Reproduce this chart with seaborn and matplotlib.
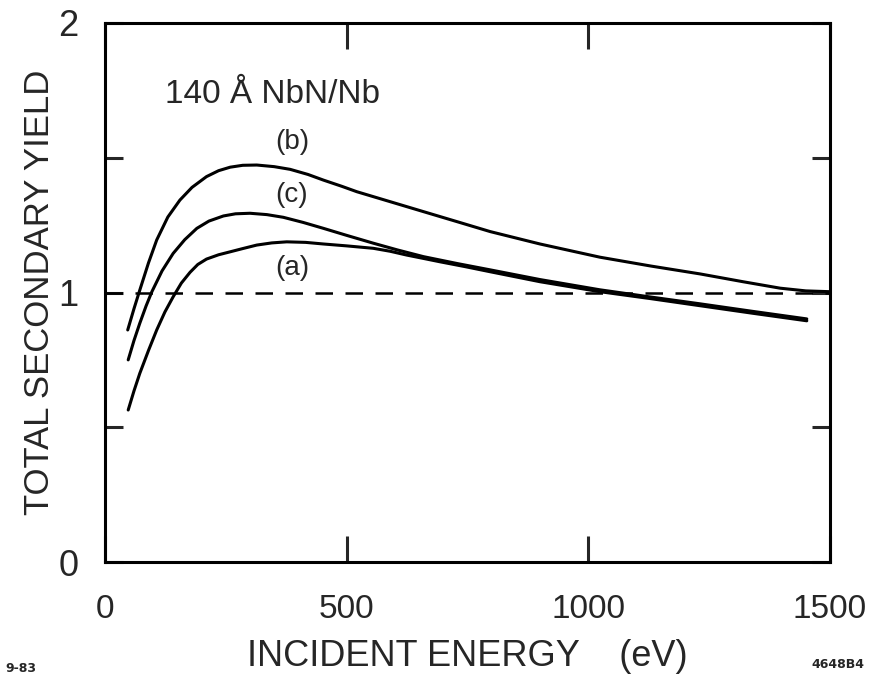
import numpy as np
import pandas as pd
import matplotlib
matplotlib.use("Agg")
import matplotlib.pyplot as plt
import seaborn as sns

# ---- data ----
energy_b = [47, 60, 72, 90, 107, 130, 155, 180, 210, 235, 259, 285, 314, 350, 383, 420, 452, 490,
            521, 590, 659, 730, 797, 900, 1024, 1130, 1231, 1320, 1397, 1450, 1500]
yield_b = [0.861, 0.940, 1.009, 1.110, 1.195, 1.280, 1.343, 1.390, 1.430, 1.452, 1.465, 1.472, 1.473,
           1.467, 1.457, 1.438, 1.417, 1.394, 1.374, 1.337, 1.300, 1.262, 1.226, 1.180, 1.131, 1.098,
           1.069, 1.040, 1.016, 1.006, 1.003]

energy_c = [48, 60, 72, 85, 97, 118, 141, 165, 190, 215, 245, 270, 300, 335, 369, 410, 452, 500,
            555, 605, 659, 730, 797, 900, 1024, 1130, 1231, 1340, 1452]
yield_c = [0.750, 0.822, 0.886, 0.950, 1.003, 1.080, 1.145, 1.196, 1.238, 1.265, 1.284, 1.292, 1.294,
           1.289, 1.279, 1.260, 1.238, 1.212, 1.183, 1.158, 1.133, 1.107, 1.084, 1.048, 1.010, 0.983,
           0.958, 0.930, 0.902]

energy_a = [48, 60, 72, 90, 107, 124, 141, 158, 176, 192, 210, 235, 259, 285, 314, 345, 376, 415,
            452, 500, 555, 590, 624, 660, 693, 745, 797, 900, 1024, 1130, 1231, 1340, 1452]
yield_a = [0.564, 0.635, 0.700, 0.785, 0.861, 0.928, 0.984, 1.035, 1.075, 1.104, 1.124, 1.140, 1.151,
           1.163, 1.176, 1.184, 1.188, 1.186, 1.180, 1.173, 1.164, 1.153, 1.139, 1.126, 1.114, 1.096,
           1.077, 1.040, 1.003, 0.977, 0.951, 0.923, 0.895]

curve_labels = ["(b)", "(c)", "(a)"]
label_x = [387, 387, 387]
label_y = [1.56, 1.36, 1.09]

x_ticks = [0, 500, 1000, 1500]
x_ticklabels = ["0", "500", "1000", "1500"]
y_ticks = [0, 0.5, 1, 1.5, 2]
y_ticklabels = ["0", "", "1", "", "2"]

sns.set_style("ticks")
plt.rcParams["font.family"] = ["Liberation Sans", "DejaVu Sans"]

fig = plt.figure(figsize=(8.69, 6.8), dpi=100)
ax = fig.add_axes([105 / 869, 1 - 562 / 680, 725 / 869, 539 / 680])

frames = []
for name, ex, ey in [("b", energy_b, yield_b), ("c", energy_c, yield_c), ("a", energy_a, yield_a)]:
    frames.append(pd.DataFrame({"energy": ex, "yield": ey, "curve": name}))
df = pd.concat(frames, ignore_index=True)

for name in ["b", "c", "a"]:
    sub = df[df["curve"] == name]
    sns.lineplot(data=sub, x="energy", y="yield", ax=ax, color="black",
                 linewidth=2.2, sort=False, estimator=None, legend=False)

ax.axhline(1.0, color="black", linewidth=1.8, linestyle=(0, (7, 5)))

ax.set_xlim(0, 1500)
ax.set_ylim(0, 2)
ax.set_xticks(x_ticks)
ax.set_xticklabels(x_ticklabels)
ax.set_yticks(y_ticks)
ax.set_yticklabels(y_ticklabels)

for s in ax.spines.values():
    s.set_visible(True)
    s.set_linewidth(2.2)
    s.set_color("black")

ax.tick_params(axis="x", direction="in", length=19, width=2.2, top=True, bottom=True,
               labelsize=24, pad=23)
ax.tick_params(axis="y", direction="in", length=13, width=2.2, left=True, right=True,
               labelsize=26, pad=19)

ax.set_xlabel("INCIDENT ENERGY    (eV)", fontsize=26, labelpad=10)
ax.set_ylabel("TOTAL SECONDARY YIELD", fontsize=25, labelpad=2)

ax.text(124, 1.703, "140 Å NbN/Nb", fontsize=24, ha="left", va="baseline")
for lab, lx, ly in zip(curve_labels, label_x, label_y):
    ax.text(lx, ly, lab, fontsize=20, ha="center", va="center")

fig.text(5 / 869, 1 - 668 / 680, "9-83", fontsize=9, fontweight="bold", ha="left", va="center",
         family="DejaVu Sans")
fig.text(864 / 869, 1 - 665 / 680, "4648B4", fontsize=9, fontweight="bold", ha="right", va="center",
         family="DejaVu Sans")

fig.savefig("out.png", dpi=100)
